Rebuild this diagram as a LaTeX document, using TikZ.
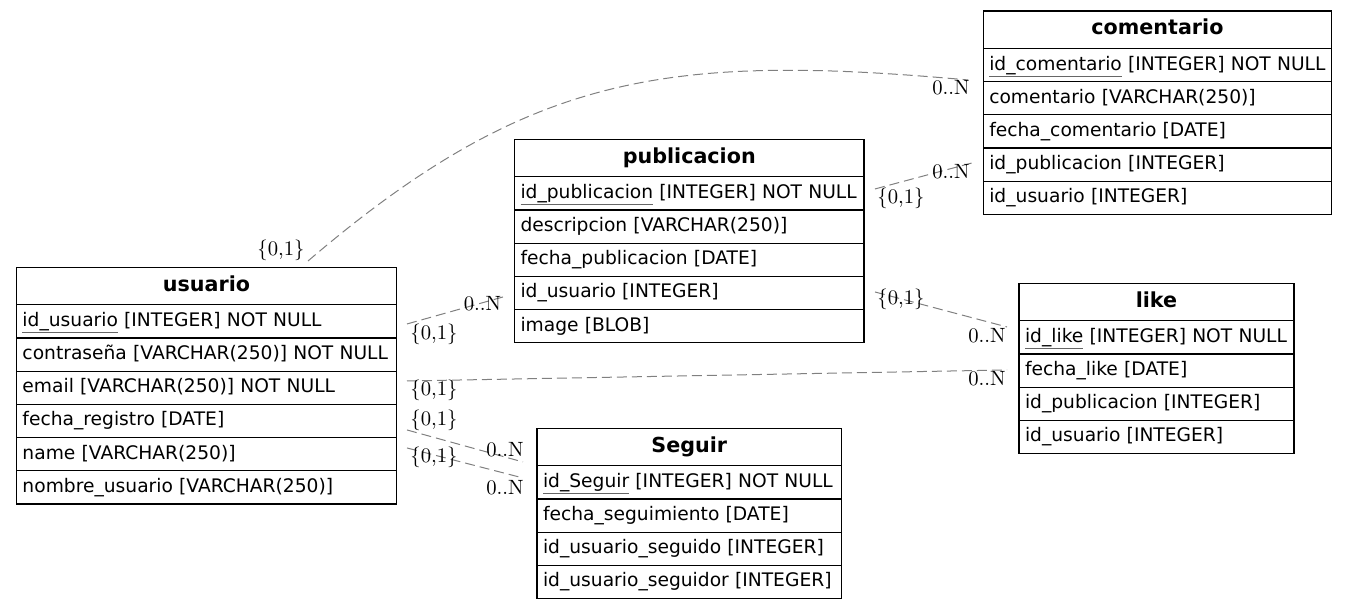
\documentclass[tikz,border=0pt]{standalone}
\usepackage{fontspec}
\newfontfamily\dejavu{DejaVu Sans}
\newfontfamily\cardfont{lmroman10-regular}[Extension=.otf]
\usetikzlibrary{positioning}

\newcommand\pkey[1]{{\color{black!60}\underline{\color{black}#1}}}

\tikzset{
  tabbox/.style={draw, line width=0.9pt, outer sep=0pt},
  tabhead/.style={tabbox, font=\dejavu\bfseries\fontsize{15.5}{18}\selectfont,
    minimum width=#1, minimum height=28.1pt, text height=11pt, text depth=3.5pt, inner sep=0pt},
  fieldrow/.style={tabbox, font=\dejavu\fontsize{14}{16}\selectfont, text width=#1, align=left,
    inner xsep=4.5pt, inner ysep=0pt, minimum height=24.9pt, text height=10.5pt, text depth=3pt},
  relline/.style={draw=black!50, line width=0.75pt, dash pattern=on 7.5pt off 3.75pt},
  cardlbl/.style={font=\cardfont\fontsize{15.5}{18}\selectfont, inner sep=0pt},
}

\begin{document}
\begin{tikzpicture}[x=0.75pt, y=-0.75pt]
  \useasboundingbox (0,0) rectangle (1347,610);

  % usuario
  \node[tabhead=285pt, anchor=north west] (usrh) at (16.5,267.3) {usuario};
  \node[fieldrow=276pt, below=0pt of usrh] (usr1) {\pkey{id\_usuario} [INTEGER] NOT NULL};
  \node[fieldrow=276pt, below=0pt of usr1] (usr2) {contraseña [VARCHAR(250)] NOT NULL};
  \node[fieldrow=276pt, below=0pt of usr2] (usr3) {email [VARCHAR(250)] NOT NULL};
  \node[fieldrow=276pt, below=0pt of usr3] (usr4) {fecha\_registro [DATE]};
  \node[fieldrow=276pt, below=0pt of usr4] (usr5) {name [VARCHAR(250)]};
  \node[fieldrow=276pt, below=0pt of usr5] (usr6) {nombre\_usuario [VARCHAR(250)]};

  % publicacion
  \node[tabhead=262.1pt, anchor=north west] (pubh) at (514.5,139.3) {publicacion};
  \node[fieldrow=253.1pt, below=0pt of pubh] (pub1) {\pkey{id\_publicacion} [INTEGER] NOT NULL};
  \node[fieldrow=253.1pt, below=0pt of pub1] (pub2) {descripcion [VARCHAR(250)]};
  \node[fieldrow=253.1pt, below=0pt of pub2] (pub3) {fecha\_publicacion [DATE]};
  \node[fieldrow=253.1pt, below=0pt of pub3] (pub4) {id\_usuario [INTEGER]};
  \node[fieldrow=253.1pt, below=0pt of pub4] (pub5) {image [BLOB]};

  % comentario
  \node[tabhead=261.2pt, anchor=north west] (comh) at (983.3,11) {comentario};
  \node[fieldrow=252.2pt, below=0pt of comh] (com1) {\pkey{id\_comentario} [INTEGER] NOT NULL};
  \node[fieldrow=252.2pt, below=0pt of com1] (com2) {comentario [VARCHAR(250)]};
  \node[fieldrow=252.2pt, below=0pt of com2] (com3) {fecha\_comentario [DATE]};
  \node[fieldrow=252.2pt, below=0pt of com3] (com4) {id\_publicacion [INTEGER]};
  \node[fieldrow=252.2pt, below=0pt of com4] (com5) {id\_usuario [INTEGER]};

  % like
  \node[tabhead=206.25pt, anchor=north west] (likh) at (1019,283.3) {like};
  \node[fieldrow=197.25pt, below=0pt of likh] (lik1) {\pkey{id\_like} [INTEGER] NOT NULL};
  \node[fieldrow=197.25pt, below=0pt of lik1] (lik2) {fecha\_like [DATE]};
  \node[fieldrow=197.25pt, below=0pt of lik2] (lik3) {id\_publicacion [INTEGER]};
  \node[fieldrow=197.25pt, below=0pt of lik3] (lik4) {id\_usuario [INTEGER]};

  % Seguir
  \node[tabhead=228.4pt, anchor=north west] (segh) at (537,428.3) {Seguir};
  \node[fieldrow=219.4pt, below=0pt of segh] (seg1) {\pkey{id\_Seguir} [INTEGER] NOT NULL};
  \node[fieldrow=219.4pt, below=0pt of seg1] (seg2) {fecha\_seguimiento [DATE]};
  \node[fieldrow=219.4pt, below=0pt of seg2] (seg3) {id\_usuario\_seguido [INTEGER]};
  \node[fieldrow=219.4pt, below=0pt of seg3] (seg4) {id\_usuario\_seguidor [INTEGER]};

  % connector ends
  \coordinate (usrT) at ([shift={(101.5,-6.3)}]usrh.north);
  \coordinate (usrA) at ([shift={(10.5,2.6)}]usr1.east);
  \coordinate (usrB) at ([shift={(10.5,-6.8)}]usr3.east);
  \coordinate (usrC) at ([shift={(10.5,9)}]usr4.east);
  \coordinate (usrD) at ([shift={(10.5,-6.2)}]usr5.east);
  \coordinate (pubA) at ([shift={(-11.5,4)}]pub4.west);
  \coordinate (pubB) at ([shift={(11,-4.4)}]pub1.east);
  \coordinate (pubC) at ([shift={(11,-1)}]pub4.east);
  \coordinate (comA) at ([shift={(-15.3,-1.7)}]com1.south west);
  \coordinate (comB) at ([shift={(-11.3,-1.7)}]com4.west);
  \coordinate (likA) at ([shift={(-12,-10.4)}]lik1.west);
  \coordinate (likB) at ([shift={(-12,-0.6)}]lik2.west);
  \coordinate (segA) at ([shift={(-14,-3.8)}]segh.south west);
  \coordinate (segB) at ([shift={(-14,-4.4)}]seg1.west);

  % relations
  \draw[relline] (usrT) .. controls +(220,-188) and +(-300,-27) .. (comA);
  \draw[relline] (pubB) -- (comB);
  \draw[relline] (usrA) -- (pubA);
  \draw[relline] (pubC) -- (likA);
  \draw[relline] (usrB) -- (likB);
  \draw[relline] (usrC) -- (segA);
  \draw[relline] (usrD) -- (segB);

  % cardinalities
  \node[cardlbl] (cU1) at (281,250) {\{0,1\}};
  \node[cardlbl] (cC1) at (951,88) {0..N};
  \node[cardlbl] (cP1) at (901,198) {\{0,1\}};
  \node[cardlbl] (cC2) at (951,172) {0..N};
  \node[cardlbl] (cU2) at (434,334) {\{0,1\}};
  \node[cardlbl] (cP2) at (482.5,304) {0..N};
  \node[cardlbl] (cP3) at (901,299.5) {\{0,1\}};
  \node[cardlbl] (cL1) at (987,336) {0..N};
  \node[cardlbl] (cU3) at (434,390) {\{0,1\}};
  \node[cardlbl] (cL2) at (987,379) {0..N};
  \node[cardlbl] (cU4) at (434,420) {\{0,1\}};
  \node[cardlbl] (cS1) at (505,450) {0..N};
  \node[cardlbl] (cU5) at (434,457) {\{0,1\}};
  \node[cardlbl] (cS2) at (505,488) {0..N};
\end{tikzpicture}
\end{document}
